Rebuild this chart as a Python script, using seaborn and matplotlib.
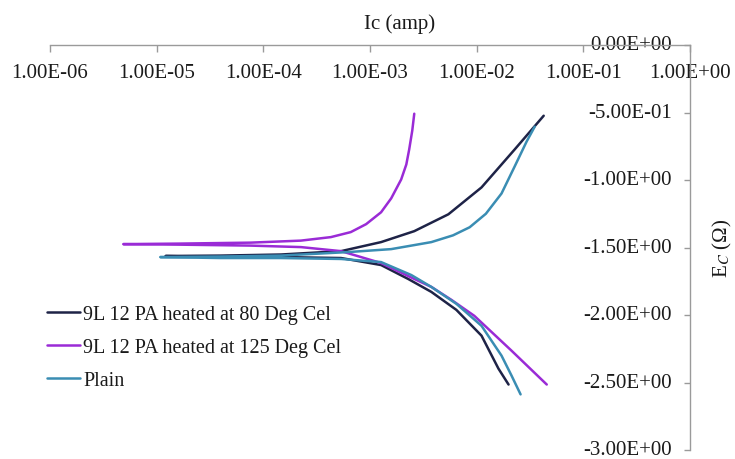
import matplotlib
matplotlib.use("Agg")
import matplotlib.pyplot as plt
import seaborn as sns
import pandas as pd
import numpy as np
from matplotlib.ticker import FixedLocator, FixedFormatter, NullLocator
from matplotlib.lines import Line2D

# ---- data ----
series_names = ["9L 12 PA heated at 80 Deg Cel",
                "9L 12 PA heated at 125 Deg Cel",
                "Plain"]

# 9L 12 PA heated at 80 Deg Cel (cathodic end -> Ecorr -> anodic end)
i_80 = [1.99e-2, 1.60e-2, 1.11e-2, 6.45e-3, 3.76e-3, 2.28e-3, 1.27e-3, 5.35e-4, 1.46e-4, 3.97e-5,
        1.21e-5,
        3.97e-5, 1.46e-4, 5.35e-4, 1.27e-3, 2.60e-3, 5.43e-3, 1.11e-2, 2.27e-2, 4.25e-2]
e_80 = [-2.515, -2.397, -2.153, -1.962, -1.829, -1.733, -1.630, -1.578, -1.571, -1.571,
        -1.563,
        -1.560, -1.552, -1.527, -1.460, -1.379, -1.254, -1.055, -0.774, -0.524]

# 9L 12 PA heated at 125 Deg Cel
i_125 = [4.54e-2, 2.12e-2, 9.5e-3, 5.8e-3, 3.76e-3, 2.60e-3, 1.27e-3, 5.35e-4, 2.25e-4, 7.6e-5, 1.67e-5,
         4.86e-6,
         1.67e-5, 7.6e-5, 2.25e-4, 4.3e-4, 6.6e-4, 9.2e-4, 1.27e-3, 1.58e-3, 1.96e-3, 2.19e-3, 2.33e-3,
         2.49e-3, 2.60e-3]
e_125 = [-2.515, -2.264, -2.006, -1.888, -1.792, -1.733, -1.615, -1.527, -1.497, -1.486, -1.479,
         -1.475,
         -1.471, -1.464, -1.449, -1.423, -1.386, -1.327, -1.239, -1.136, -0.996, -0.885, -0.774,
         -0.634, -0.509]

# Plain
i_plain = [2.58e-2, 2.12e-2, 1.71e-2, 1.11e-2, 6.45e-3, 3.76e-3, 2.44e-3, 1.27e-3, 5.35e-4, 1.46e-4, 3.97e-5,
           1.08e-5,
           3.97e-5, 1.46e-4, 6.22e-4, 1.58e-3, 3.76e-3, 6.0e-3, 8.6e-3, 1.22e-2, 1.71e-2, 2.27e-2, 2.94e-2,
           3.50e-2]
e_plain = [-2.588, -2.448, -2.301, -2.080, -1.917, -1.792, -1.704, -1.608, -1.585, -1.578, -1.578,
           -1.571,
           -1.567, -1.560, -1.534, -1.512, -1.460, -1.410, -1.350, -1.250, -1.100, -0.900, -0.715,
           -0.605]

x_ticks = [1e-6, 1e-5, 1e-4, 1e-3, 1e-2, 1e-1, 1e0]
y_ticks = [0.0, -0.5, -1.0, -1.5, -2.0, -2.5, -3.0]
colors = ["#1e2347", "#9a2bd6", "#3a8db3"]

frames = []
for name, ii, ee in zip(series_names, [i_80, i_125, i_plain], [e_80, e_125, e_plain]):
    frames.append(pd.DataFrame({"Ic": ii, "Ec": ee, "series": name}))
df = pd.concat(frames, ignore_index=True)

# ---- figure ----
sns.set_theme(style="white")
plt.rcParams["font.family"] = ["Liberation Serif", "DejaVu Serif"]
plt.rcParams["mathtext.fontset"] = "stix"

W, H = 735, 460
fig = plt.figure(figsize=(W / 100, H / 100), dpi=100)
L, R, T, B = 50, 690, 46, 451
ax = fig.add_axes([L / W, 1 - B / H, (R - L) / W, (B - T) / H])

sns.lineplot(data=df, x="Ic", y="Ec", hue="series", hue_order=series_names,
             palette=colors, sort=False, estimator=None, units="series",
             linewidth=1.8, ax=ax, legend=False)

ax.set_xscale("log")
ax.set_xlim(1e-6, 1e0)
ax.set_ylim(-3.0, 0.0)

for s in ["left", "bottom"]:
    ax.spines[s].set_visible(False)
for s in ["top", "right"]:
    ax.spines[s].set_visible(True)
    ax.spines[s].set_color("#9a9a9a")
    ax.spines[s].set_linewidth(1.0)

ax.xaxis.set_major_locator(FixedLocator(x_ticks))
ax.xaxis.set_minor_locator(NullLocator())
ax.xaxis.set_major_formatter(FixedFormatter([f"{v:.2E}" for v in x_ticks]))
ax.yaxis.set_major_locator(FixedLocator(y_ticks))
ax.yaxis.set_major_formatter(FixedFormatter([f"{v:.2E}" if v != 0 else "0.00E+00" for v in y_ticks]))

ax.tick_params(axis="x", which="major", top=True, bottom=False, labeltop=True, labelbottom=False,
               direction="in", length=5, width=1, color="#9a9a9a", labelsize=15, pad=-13,
               labelcolor="#1a1a1a")
ax.tick_params(axis="y", which="major", right=True, left=False, labelright=True, labelleft=False,
               direction="in", length=4, width=1, color="#9a9a9a", labelsize=15, pad=-13,
               labelcolor="#1a1a1a")
for lab in ax.get_xticklabels():
    lab.set_va("top")
for lab in ax.get_yticklabels():
    lab.set_ha("right")
    lab.set_va("center")

ax.set_xlabel("Ic (amp)", fontsize=15, color="#1a1a1a")
ax.xaxis.set_label_position("top")
ax.xaxis.set_label_coords((400 - L) / (R - L), 1 + (T - 24) / (B - T))
ax.xaxis.label.set_va("center")

ax.set_ylabel("E$_C$ (\u03a9)", fontsize=15, color="#1a1a1a", rotation=90)
ax.yaxis.set_label_position("right")
ax.yaxis.set_label_coords((722 - L) / (R - L), (B - 248) / (B - T))
ax.yaxis.label.set_va("center")
ax.yaxis.label.set_ha("center")

ax.grid(False)

# legend
handles = [Line2D([], [], color=c, lw=1.8) for c in colors]
leg = fig.legend(handles, series_names, loc="upper left",
                 bbox_to_anchor=(47 / W, 1 - 306 / H), frameon=False,
                 fontsize=14.5, handlelength=1.65, handletextpad=0.15,
                 labelspacing=0.7, borderpad=0, borderaxespad=0)
for t in leg.get_texts():
    t.set_color("#1a1a1a")

fig.savefig("out.png", dpi=100, facecolor="white")
